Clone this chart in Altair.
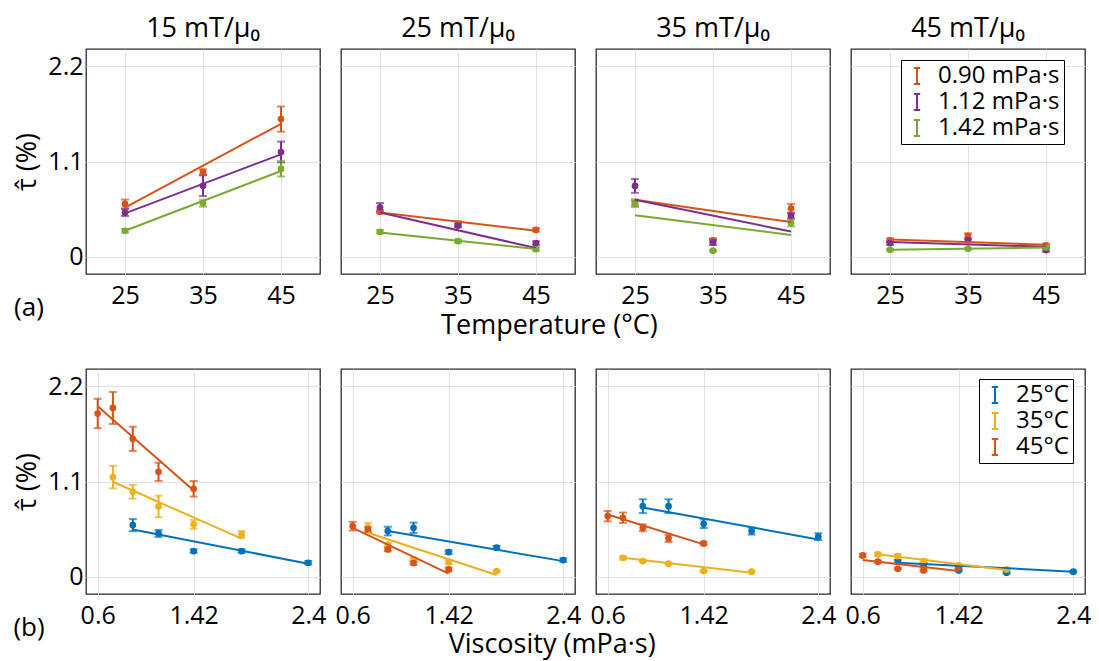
import altair as alt
import pandas as pd

FONT = "Open Sans"

FIELDS = ["15 mT/μ₀", "25 mT/μ₀", "35 mT/μ₀", "45 mT/μ₀"]
TEMPS = [25, 35, 45]
VISC_LABELS = ["0.90 mPa·s", "1.12 mPa·s", "1.42 mPa·s"]
VISC_COLORS = ["#D95319", "#7E2F8E", "#77AC30"]
TEMP_LABELS = ["25°C", "35°C", "45°C"]
TEMP_COLORS = ["#0072BD", "#EDB120", "#D95319"]

# ---- (a) tau vs temperature; one inner list per field panel, values at 25/35/45 C
tau_a_090 = [[0.61, 0.98, 1.59], [0.52, 0.38, 0.31], [0.62, 0.19, 0.56], [0.19, 0.24, 0.13]]
err_a_090 = [[0.05, 0.03, 0.145], [0.02, 0.03, 0.02], [0.03, 0.02, 0.05], [0.02, 0.03, 0.02]]
tau_a_112 = [[0.51, 0.82, 1.21], [0.57, 0.36, 0.157], [0.818, 0.165, 0.472], [0.157, 0.19, 0.077]]
err_a_112 = [[0.04, 0.12, 0.12], [0.05, 0.02, 0.02], [0.08, 0.03, 0.03], [0.02, 0.02, 0.02]]
tau_a_142 = [[0.30, 0.618, 1.017], [0.288, 0.18, 0.088], [0.618, 0.069, 0.39], [0.08, 0.092, 0.107]]
err_a_142 = [[0.02, 0.04, 0.09], [0.02, 0.02, 0.02], [0.045, 0.01, 0.04], [0.01, 0.01, 0.01]]
# fitted lines: value at 25 C and at 45 C
fit_a_090 = [[0.568, 1.536], [0.51, 0.30], [0.657, 0.40], [0.20, 0.138]]
fit_a_112 = [[0.50, 1.183], [0.51, 0.10], [0.657, 0.29], [0.17, 0.115]]
fit_a_142 = [[0.30, 0.99], [0.28, 0.09], [0.48, 0.25], [0.08, 0.105]]

# ---- (b) tau vs viscosity; viscosity of each sample at each temperature
visc_25 = [0.90, 1.12, 1.42, 1.83, 2.40]
visc_35 = [0.73, 0.90, 1.12, 1.42, 1.83]
visc_45 = [0.60, 0.73, 0.90, 1.12, 1.42]
tau_b_25 = [[0.596, 0.50, 0.296, 0.296, 0.161], [0.527, 0.565, 0.284, 0.335, 0.192],
            [0.815, 0.815, 0.612, 0.527, 0.462], [0.173, 0.134, 0.073, 0.046, 0.058]]
err_b_25 = [[0.07, 0.04, 0.02, 0.02, 0.02], [0.05, 0.06, 0.02, 0.02, 0.02],
            [0.08, 0.08, 0.05, 0.04, 0.04], [0.02, 0.02, 0.01, 0.01, 0.01]]
tau_b_35 = [[1.15, 0.981, 0.812, 0.604, 0.488], [0.573, 0.37, 0.20, 0.169, 0.065],
            [0.219, 0.18, 0.15, 0.065, 0.058], [0.258, 0.238, 0.18, 0.13, 0.084]]
err_b_35 = [[0.13, 0.08, 0.125, 0.05, 0.04], [0.05, 0.02, 0.02, 0.02, 0.01],
            [0.02, 0.01, 0.01, 0.01, 0.01], [0.02, 0.02, 0.02, 0.01, 0.01]]
tau_b_45 = [[1.886, 1.95, 1.593, 1.212, 1.016], [0.584, 0.546, 0.315, 0.157, 0.084],
            [0.70, 0.681, 0.565, 0.442, 0.384], [0.246, 0.173, 0.092, 0.073, 0.104]]
err_b_45 = [[0.17, 0.185, 0.14, 0.105, 0.09], [0.05, 0.03, 0.02, 0.02, 0.02],
            [0.06, 0.06, 0.04, 0.04, 0.02], [0.02, 0.01, 0.01, 0.01, 0.01]]
# fitted lines: value at first and last viscosity of each series
fit_b_25 = [[0.546, 0.15], [0.527, 0.18], [0.80, 0.431], [0.161, 0.058]]
fit_b_35 = [[1.097, 0.439], [0.508, 0.019], [0.219, 0.046], [0.258, 0.076]]
fit_b_45 = [[1.97, 0.996], [0.565, 0.035], [0.719, 0.373], [0.192, 0.065]]

Y_DOMAIN = [-0.2, 2.4]
Y_TICKS = [0, 1.1, 2.2]
Y_TITLE = "τ̂ (%)"
PANEL_W, PANEL_H = 234, 225
ERR_PATH = "M-0.4,-1H0.4M0,-1V1M-0.4,1H0.4"


def build_frames(i, labels, xs_list, taus, errs, fits):
    pts, fl = [], []
    for lab, xs, tau, err, fit in zip(labels, xs_list, taus, errs, fits):
        for x, y, e in zip(xs, tau[i], err[i]):
            pts.append({"series": lab, "x": x, "y": y, "lo": y - e, "hi": y + e})
        fl.append({"series": lab, "x": xs[0], "y": fit[i][0]})
        fl.append({"series": lab, "x": xs[-1], "y": fit[i][1]})
    return pd.DataFrame(pts), pd.DataFrame(fl)


def panel(i, pts, fits, labels, colors, xdom, xticks, xfmt, title, tag, legend_xy):
    first = i == 0
    xs = alt.Scale(domain=xdom, nice=False, zero=False)
    ys = alt.Scale(domain=Y_DOMAIN, nice=False, zero=False)
    xaxis = alt.Axis(values=xticks, format=xfmt, title=None, grid=True, labelFlush=False,
                     labelPadding=9, labelOverlap=False)
    yaxis = alt.Axis(values=Y_TICKS, format=".1~f", title=Y_TITLE if first else None,
                     labels=first, grid=True, labelFlush=False, labelPadding=3,
                     titlePadding=6)
    cscale = alt.Scale(domain=labels, range=colors)

    def X(f):
        return alt.X(f, scale=xs, axis=xaxis)

    def Y(f):
        return alt.Y(f, scale=ys, axis=yaxis)

    if legend_xy is not None:
        leg = alt.Legend(title=None, orient="none", legendX=legend_xy[0], legendY=legend_xy[1],
                         symbolType=ERR_PATH, symbolSize=256, symbolStrokeWidth=2,
                         labelFontSize=24, labelFont=FONT, labelColor="black",
                         labelOffset=9, strokeColor="black", fillColor="white",
                         padding=4, rowPadding=2, labelLimit=400)
    else:
        leg = None
    color_leg = alt.Color("series:N", scale=cscale, legend=leg)
    color_none = alt.Color("series:N", scale=cscale, legend=None)

    err = alt.Chart(pts).mark_rule(strokeWidth=2).encode(
        x=X("x:Q"), y=Y("lo:Q"), y2="hi:Q", color=color_leg)
    cap_lo = alt.Chart(pts).mark_tick(orient="horizontal", size=8, thickness=2).encode(
        x=X("x:Q"), y=Y("lo:Q"), color=color_none)
    cap_hi = alt.Chart(pts).mark_tick(orient="horizontal", size=8, thickness=2).encode(
        x=X("x:Q"), y=Y("hi:Q"), color=color_none)
    dots = alt.Chart(pts).mark_circle(size=45, opacity=1).encode(
        x=X("x:Q"), y=Y("y:Q"), color=color_none)
    lines = alt.Chart(fits).mark_line(strokeWidth=2).encode(
        x=X("x:Q"), y=Y("y:Q"), color=color_none)
    layers = [err, cap_lo, cap_hi, dots, lines]
    if first:
        tagc = alt.Chart(pd.DataFrame({"t": [tag]})).mark_text(
            font=FONT, fontSize=26, align="center", baseline="middle", color="black"
        ).encode(text="t:N", x=alt.value(-57), y=alt.value(259))
        layers.append(tagc)
    ch = alt.layer(*layers).properties(width=PANEL_W, height=PANEL_H)
    if title:
        ch = ch.properties(title=alt.TitleParams(title, anchor="middle", offset=6,
                                                 fontSize=27, font=FONT, fontWeight="normal"))
    return ch


row_a, row_b = [], []
for i in range(4):
    pa, fa = build_frames(i, VISC_LABELS, [TEMPS, TEMPS, TEMPS],
                          [tau_a_090, tau_a_112, tau_a_142],
                          [err_a_090, err_a_112, err_a_142],
                          [fit_a_090, fit_a_112, fit_a_142])
    row_a.append(panel(i, pa, fa, VISC_LABELS, VISC_COLORS, [20, 50], TEMPS, "d",
                       FIELDS[i], "(a)", (50, 11) if i == 3 else None))
    pb, fb = build_frames(i, TEMP_LABELS, [visc_25, visc_35, visc_45],
                          [tau_b_25, tau_b_35, tau_b_45],
                          [err_b_25, err_b_35, err_b_45],
                          [fit_b_25, fit_b_35, fit_b_45])
    row_b.append(panel(i, pb, fb, TEMP_LABELS, TEMP_COLORS, [0.5, 2.5], [0.6, 1.42, 2.4],
                       ".2~f", None, "(b)", (128, 10) if i == 3 else None))

ta = alt.hconcat(*row_a, spacing=21, bounds="flush",
                 title=alt.TitleParams("Temperature (°C)", orient="bottom", anchor="middle",
                                       offset=-9, fontSize=27, font=FONT, fontWeight="normal")
                 ).resolve_scale(color="independent")
tb = alt.hconcat(*row_b, spacing=21, bounds="flush",
                 title=alt.TitleParams("Viscosity (mPa·s)", orient="bottom", anchor="middle",
                                       offset=-10, fontSize=27, font=FONT, fontWeight="normal")
                 ).resolve_scale(color="independent")

chart = alt.vconcat(ta, tb, spacing=29).resolve_scale(
    color="independent"
).properties(
    padding={"left": 12, "top": 14, "right": 5, "bottom": 5},
    background="white",
).configure_view(
    stroke="#2b2b2b", strokeWidth=1.3
).configure_axis(
    labelFont=FONT, titleFont=FONT, labelFontSize=25, titleFontSize=27,
    labelColor="black", titleColor="black", titleFontWeight="normal",
    gridColor="#e2e2e2", gridWidth=1, domain=False, ticks=False
).configure_title(
    font=FONT, color="black", fontWeight="normal"
)

chart.save("out.html", embed_options={"renderer": "svg", "actions": False})
